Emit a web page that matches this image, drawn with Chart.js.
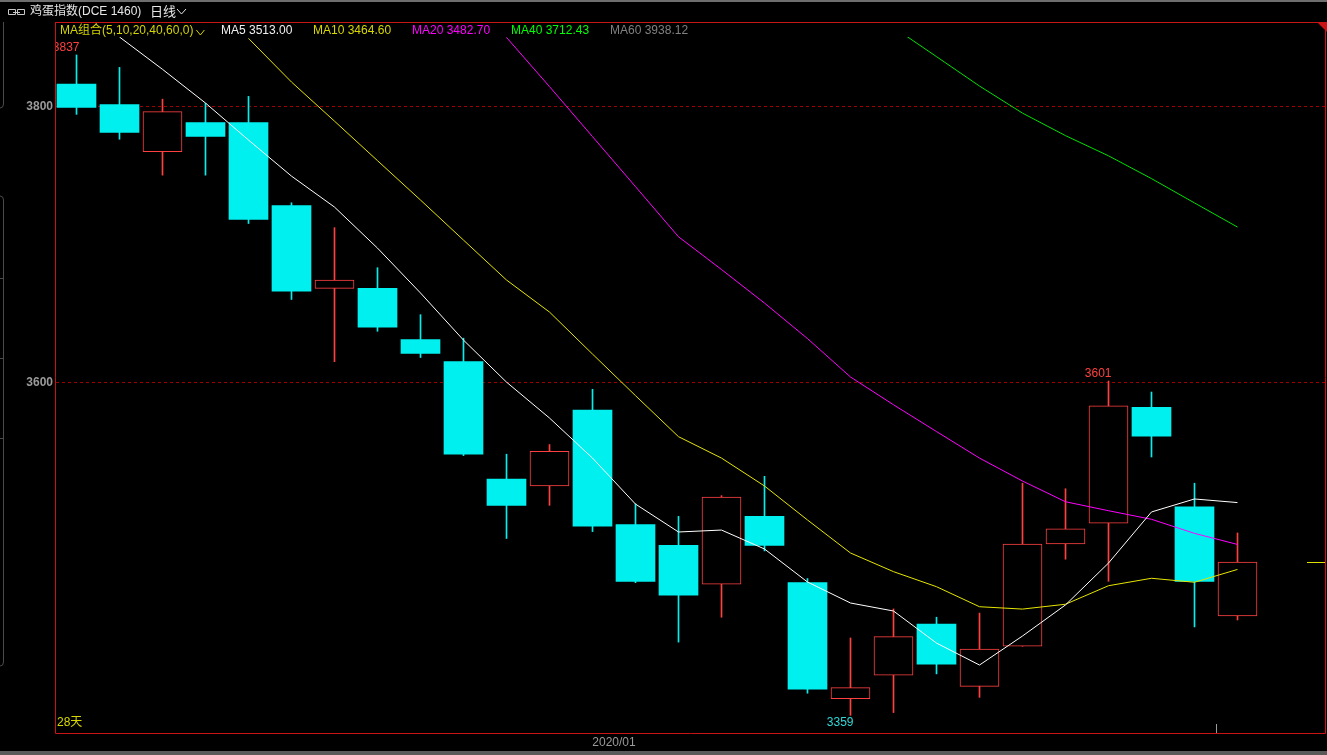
<!DOCTYPE html>
<html>
<head>
<meta charset="utf-8">
<title>鸡蛋指数 日线</title>
<script src="https://cdn.jsdelivr.net/npm/chart.js@4.4.1/dist/chart.umd.min.js"></script>
<style>
  html, body { margin: 0; padding: 0; background: #000; overflow: hidden; }
  #wrap { position: relative; width: 1327px; height: 755px; }
  canvas { display: block; }
</style>
</head>
<body>
<div id="wrap"><canvas id="kline" width="1327" height="755"></canvas></div>
<script>
// =============================================
// 鸡蛋指数 (DCE 1460) – daily candles, 28 sessions
// values
// =============================================

const opens  = [3816, 3801, 3767, 3788, 3788, 3728, 3668, 3668, 3631, 3615, 3530, 3525, 3580, 3497,
                3482, 3454, 3503, 3455, 3371, 3388, 3425, 3380, 3409, 3483, 3498, 3582, 3510, 3431];
const highs  = [3837, 3828, 3805, 3802, 3807, 3730, 3712, 3683, 3649, 3632, 3548, 3555, 3595, 3512,
                3503, 3518, 3532, 3458, 3415, 3436, 3430, 3433, 3527, 3523, 3601, 3593, 3527, 3491];
const lows   = [3794, 3776, 3750, 3750, 3715, 3660, 3615, 3637, 3618, 3547, 3487, 3511, 3492, 3455,
                3412, 3430, 3478, 3375, 3359, 3361, 3389, 3372, 3409, 3472, 3456, 3546, 3423, 3428];
const closes = [3799, 3781, 3796, 3778, 3718, 3666, 3674, 3640, 3621, 3548, 3511, 3550, 3496, 3456,
                3446, 3517, 3482, 3378, 3379, 3416, 3396, 3407, 3483, 3494, 3583, 3561, 3456, 3470];

// moving averages (null = not on screen yet)
const ma5  = [null, 3850, 3826.6, 3802.2, 3775.4, 3749.3, 3726.9, 3697.2, 3664.7, 3630.6, 3600.2, 3574.2,
              3545.2, 3511.9, 3491.7, 3493.1, 3479.4, 3455.5, 3440.3, 3434.5, 3411.3, 3395.4, 3416.4,
              3438.9, 3469.2, 3506.2, 3515.6, 3513.00];
const ma10 = [null, null, null, null, 3849, 3817.4, 3789.1, 3760.5, 3732.0, 3703.0, 3674.1, 3650.9,
              3620.5, 3590.4, 3560.7, 3545.2, 3525.0, 3500.4, 3476.5, 3463.0, 3452.1, 3437.6, 3435.9,
              3439.4, 3452.8, 3458.2, 3455.3, 3464.60];
const ma20 = [null, null, null, null, null, null, null, null, null, null, 3849.7, 3814.1,
              3777.9, 3741.7, 3705.4, 3681.7, 3657.4, 3631.7, 3603.9, 3583.8, 3564.4, 3545.2, 3528.6,
              3513.6, 3507.1, 3500.9, 3490.7, 3482.70];
const ma40 = [null, null, null, null, null, null, null, null, null, null, null, null,
              null, null, null, null, null, null, null, 3857, 3835.8, 3814.5, 3794.9,
              3778.6, 3764.0, 3747.5, 3729.9, 3712.43];
const ma60Last = 3938.12;   // off the top of the chart, only shown in the legend

// axis stuff
const yTicks = [3800, 3600];
const xTickLabels = ['2020/01'];
const xTickIndex = [12.5];
const xTickMarks = [26.5];
const dayCountLabel = '28天';

// labelled extremes: [candle index, 'high' | 'low']
const peakMarks = [[0, 'high'], [24, 'high'], [18, 'low']];

const UP = '#ff4040';
const DOWN = '#00f0f0';
const FONT = '"Liberation Sans", "Noto Sans CJK SC", sans-serif';

const idx = opens.map((_, i) => i);
const isUp = i => closes[i] >= opens[i];
const candleColor = idx.map(i => isUp(i) ? UP : DOWN);

const bodies     = idx.map(i => ({ x: i, y: [opens[i], closes[i]] }));
const upperWicks = idx.map(i => ({ x: i, y: [Math.max(opens[i], closes[i]), highs[i]] }));
const lowerWicks = idx.map(i => ({ x: i, y: [lows[i], Math.min(opens[i], closes[i])] }));
const maPoints = arr => arr.map((v, i) => ({ x: i, y: v })).filter(p => p.y !== null);

function maLine(label, arr, color) {
  return {
    type: 'line', label, data: maPoints(arr), borderColor: color, borderWidth: 1,
    pointRadius: 0, tension: 0, order: 0
  };
}

function wickSet(data) {
  return {
    type: 'bar', data, backgroundColor: candleColor, borderWidth: 0,
    barThickness: 1, grouped: false, order: 2
  };
}

// grid, frame, texts
const decor = {
  id: 'klineDecor',
  beforeDatasetsDraw(chart) {
    const { ctx, chartArea: a, scales: { y } } = chart;
    ctx.save();
    ctx.strokeStyle = '#a00000';
    ctx.lineWidth = 1;
    ctx.setLineDash([3, 3]);
    yTicks.forEach(v => {
      const py = Math.round(y.getPixelForValue(v)) + 0.5;
      ctx.beginPath(); ctx.moveTo(a.left, py); ctx.lineTo(a.right, py); ctx.stroke();
    });
    ctx.restore();
  },
  afterDraw(chart) {
    const { ctx, chartArea: a, scales: { x, y } } = chart;
    ctx.save();

    // window chrome
    ctx.fillStyle = '#6e6e6e';
    ctx.fillRect(0, 0, 1327, 2);
    ctx.fillStyle = '#5a5a5a';
    ctx.fillRect(0, 751, 1327, 4);

    // collapsed side panel outlines on the far left
    ctx.strokeStyle = '#4a4a4a';
    ctx.lineWidth = 1;
    ctx.beginPath();
    ctx.moveTo(3.5, 22); ctx.lineTo(3.5, 104); ctx.quadraticCurveTo(3.5, 108, 0, 108);
    ctx.moveTo(0, 196); ctx.quadraticCurveTo(3.5, 196, 3.5, 200); ctx.lineTo(3.5, 662);
    ctx.quadraticCurveTo(3.5, 666, 0, 666);
    [278, 358, 438].forEach(t => { ctx.moveTo(0, t + 0.5); ctx.lineTo(3, t + 0.5); });
    ctx.stroke();

    // red frame
    ctx.strokeStyle = '#c81414';
    ctx.beginPath();
    ctx.moveTo(55.5, 22); ctx.lineTo(55.5, 733.5); ctx.lineTo(1325.5, 733.5); ctx.lineTo(1325.5, 22);
    ctx.moveTo(55, 22.5); ctx.lineTo(1327, 22.5);
    ctx.stroke();
    ctx.fillStyle = '#c81414';
    ctx.beginPath();
    ctx.moveTo(1317, 22); ctx.lineTo(1327, 22); ctx.lineTo(1327, 32); ctx.closePath();
    ctx.fill();

    // header: link icon + title
    ctx.strokeStyle = '#c8c8c8';
    ctx.beginPath();
    ctx.rect(8.5, 9.5, 7, 5); ctx.rect(17.5, 9.5, 7, 5);
    ctx.moveTo(13, 12.5); ctx.lineTo(20, 12.5);
    ctx.stroke();
    ctx.fillStyle = '#e6e6e6';
    ctx.textBaseline = 'middle';
    ctx.font = '12px ' + FONT;
    ctx.fillText('鸡蛋指数(DCE 1460)', 30, 12);
    ctx.font = '13px ' + FONT;
    ctx.fillText('日线', 150, 12);
    ctx.strokeStyle = '#e6e6e6';
    ctx.beginPath(); ctx.moveTo(177, 9); ctx.lineTo(181.5, 14); ctx.lineTo(186, 9); ctx.stroke();

    // MA legend row
    ctx.font = '12px ' + FONT;
    const legend = [
      ['MA组合(5,10,20,40,60,0)', '#d4d400', 60],
      ['MA5 ' + ma5[ma5.length - 1].toFixed(2), '#f0f0f0', 221],
      ['MA10 ' + ma10[ma10.length - 1].toFixed(2), '#d8d800', 313],
      ['MA20 ' + ma20[ma20.length - 1].toFixed(2), '#ff00ff', 412],
      ['MA40 ' + ma40[ma40.length - 1].toFixed(2), '#00ff00', 511],
      ['MA60 ' + ma60Last.toFixed(2), '#808080', 610]
    ];
    legend.forEach(([t, c, px]) => { ctx.fillStyle = c; ctx.fillText(t, px, 31); });
    const gw = ctx.measureText(legend[0][0]).width;
    ctx.strokeStyle = '#d4d400';
    ctx.beginPath();
    ctx.moveTo(60 + gw + 3, 30); ctx.lineTo(60 + gw + 7, 35); ctx.lineTo(60 + gw + 11, 30);
    ctx.stroke();

    // price axis labels
    ctx.font = 'bold 12px ' + FONT;
    ctx.fillStyle = '#9a9a9a';
    ctx.textAlign = 'right';
    yTicks.forEach(v => ctx.fillText(String(v), 53, Math.round(y.getPixelForValue(v)) + 1));

    // date labels + ticks
    ctx.textAlign = 'center';
    ctx.font = '12px ' + FONT;
    xTickLabels.forEach((t, k) => ctx.fillText(t, x.getPixelForValue(xTickIndex[k]), 743));
    ctx.strokeStyle = '#9a9a9a';
    ctx.beginPath();
    xTickMarks.forEach(v => {
      const px = Math.round(x.getPixelForValue(v)) + 0.5;
      ctx.moveTo(px, 724); ctx.lineTo(px, 733);
    });
    ctx.stroke();

    // last close marker at the right edge
    const lc = Math.round(y.getPixelForValue(closes[closes.length - 1])) + 0.5;
    ctx.strokeStyle = '#e0e000';
    ctx.beginPath(); ctx.moveTo(1307, lc); ctx.lineTo(a.right, lc); ctx.stroke();

    // labels inside the plot (clipped by the frame)
    ctx.beginPath();
    ctx.rect(a.left, 22, a.right - a.left, a.bottom - 22);
    ctx.clip();
    ctx.textAlign = 'left';
    ctx.fillStyle = '#d8d800';
    ctx.fillText(dayCountLabel, 57, 723);

    ctx.textAlign = 'right';
    peakMarks.forEach(([i, kind]) => {
      const px = x.getPixelForValue(i) + 3;
      if (kind === 'high') {
        ctx.fillStyle = '#ff4040';
        ctx.textBaseline = 'bottom';
        ctx.fillText(String(highs[i]), px, y.getPixelForValue(highs[i]) - 1);
      } else {
        ctx.fillStyle = '#33d6d6';
        ctx.textBaseline = 'top';
        ctx.fillText(String(lows[i]), px, y.getPixelForValue(lows[i]) + 1);
      }
    });
    ctx.restore();
  }
};

new Chart(document.getElementById('kline'), {
  type: 'bar',
  data: {
    datasets: [
      maLine('MA5', ma5, '#ffffff'),
      maLine('MA10', ma10, '#e6e600'),
      maLine('MA20', ma20, '#ff00ff'),
      maLine('MA40', ma40, '#00e000'),
      {
        type: 'bar', label: 'body', data: bodies,
        backgroundColor: idx.map(i => isUp(i) ? '#000000' : DOWN),
        borderColor: candleColor,
        borderWidth: idx.map(i => isUp(i) ? 1 : 0),
        borderSkipped: false,
        barThickness: 39, grouped: false, order: 1
      },
      wickSet(upperWicks),
      wickSet(lowerWicks)
    ]
  },
  options: {
    responsive: false,
    animation: false,
    devicePixelRatio: 1,
    layout: { padding: { left: 56, top: 37, right: 2, bottom: 22 } },
    scales: {
      x: { type: 'linear', min: -0.4767, max: 29.035, offset: false, display: false },
      y: { type: 'linear', min: 3346.2, max: 3850, display: false }
    },
    plugins: { legend: { display: false }, tooltip: { enabled: false }, title: { display: false } }
  },
  plugins: [decor]
});
</script>
</body>
</html>
